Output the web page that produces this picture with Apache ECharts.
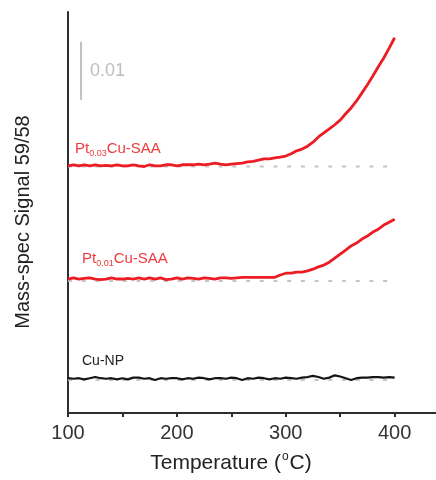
<!DOCTYPE html>
<html>
<head>
<meta charset="utf-8">
<script src="https://cdn.jsdelivr.net/npm/echarts@6/dist/echarts.min.js"></script>
<style>
html,body{margin:0;padding:0;background:#fff;}
#chart{width:436px;height:480px;}
</style>
</head>
<body>
<div id="chart"></div>
<script>
// Temperature grid (°C), 5 °C steps
var temperatures = [100,105,110,115,120,125,130,135,140,145,150,155,160,165,170,175,180,185,190,195,200,205,210,215,220,225,230,235,240,245,250,255,260,265,270,275,280,285,290,295,300,305,310,315,320,325,330,335,340,345,350,355,360,365,370,375,380,385,390,395,400];

// Offset mass-spec signal 59/58 (stacked traces)
var pt003 = [0.0426,0.0428,0.0426,0.0428,0.0426,0.0428,0.0426,0.0427,0.0426,0.0428,0.0426,0.0426,0.0428,0.0426,0.0425,0.0428,0.0426,0.0426,0.0428,0.0428,0.0426,0.0428,0.0428,0.0428,0.0429,0.0428,0.0429,0.0431,0.0429,0.0428,0.0429,0.0430,0.0431,0.0433,0.0434,0.0436,0.0438,0.0438,0.0440,0.0441,0.0443,0.0447,0.0452,0.0455,0.0460,0.0467,0.0476,0.0483,0.0490,0.0497,0.0505,0.0516,0.0526,0.0538,0.0552,0.0566,0.0581,0.0597,0.0612,0.0629,0.0647];
var pt001 = [0.0231,0.0233,0.0231,0.0232,0.0233,0.0231,0.0230,0.0231,0.0233,0.0231,0.0231,0.0232,0.0231,0.0233,0.0231,0.0233,0.0231,0.0233,0.0230,0.0231,0.0233,0.0231,0.0233,0.0232,0.0231,0.0233,0.0232,0.0231,0.0233,0.0233,0.0232,0.0233,0.0234,0.0234,0.0234,0.0234,0.0234,0.0234,0.0234,0.0238,0.0241,0.0241,0.0243,0.0243,0.0245,0.0248,0.0252,0.0255,0.0260,0.0267,0.0274,0.0281,0.0288,0.0293,0.0300,0.0305,0.0312,0.0317,0.0324,0.0329,0.0334];
var cuNP = [0.0060,0.0059,0.0060,0.0058,0.0060,0.0062,0.0060,0.0059,0.0060,0.0058,0.0060,0.0058,0.0061,0.0061,0.0059,0.0060,0.0057,0.0060,0.0059,0.0060,0.0060,0.0058,0.0060,0.0059,0.0061,0.0060,0.0058,0.0060,0.0060,0.0059,0.0061,0.0060,0.0057,0.0060,0.0059,0.0061,0.0060,0.0058,0.0060,0.0059,0.0061,0.0060,0.0059,0.0061,0.0062,0.0064,0.0062,0.0059,0.0061,0.0065,0.0063,0.0060,0.0057,0.0060,0.0061,0.0061,0.0062,0.0062,0.0061,0.0062,0.0061];

// Baselines of each trace (dotted guides)
var baselineNames = ['Pt0.03', 'Pt0.01', 'Cu-NP'];
var baselineValues = [0.0425, 0.02276, 0.0057];
var baselineRange = [100, 400];

// Scale bar: 0.01 signal units
var scaleBarT = 112;
var scaleBarBottom = 0.054;
var scaleBarSize = 0.01;
var scaleBarLabel = '0.01';

// Axis
var xMin = 100, xMax = 438, xInterval = 50;
var xTicks = [100, 150, 200, 250, 300, 350, 400];
var xTickLabels = [100, 200, 300, 400];
var yMin = 0, yMax = 0.06914;

function zip(xs, ys) { return xs.map(function (x, i) { return [x, ys[i]]; }); }

var FONT = '"Liberation Sans", Arial, sans-serif';
var RED = '#ec1c24';

var series = [];
baselineValues.forEach(function (b, i) {
  series.push({
    name: baselineNames[i] + ' baseline',
    type: 'line',
    data: [[baselineRange[0], b], [baselineRange[1], b]],
    symbol: 'none',
    silent: true,
    z: 1,
    lineStyle: { color: '#c4c4c4', width: 2, type: [4, 9.7] }
  });
});
series.push({
  name: 'Pt0.03Cu-SAA', type: 'line', data: zip(temperatures, pt003), symbol: 'none', z: 3,
  lineStyle: { color: RED, width: 2.8 }
});
series.push({
  name: 'Pt0.01Cu-SAA', type: 'line', data: zip(temperatures, pt001), symbol: 'none', z: 3,
  lineStyle: { color: RED, width: 2.8 }
});
series.push({
  name: 'Cu-NP', type: 'line', data: zip(temperatures, cuNP), symbol: 'none', z: 3,
  lineStyle: { color: '#151515', width: 2.2 }
});
series.push({
  name: 'scale bar', type: 'line',
  data: [[scaleBarT, scaleBarBottom], [scaleBarT, scaleBarBottom + scaleBarSize]],
  symbol: 'none', silent: true, z: 2,
  lineStyle: { color: '#c0c0c0', width: 2 }
});

var chart = echarts.init(document.getElementById('chart'), null, { renderer: 'canvas' });
chart.setOption({
  animation: false,
  backgroundColor: '#fff',
  grid: { left: 68, right: 0, top: 12, bottom: 67, containLabel: false },
  xAxis: {
    type: 'value', min: xMin, max: xMax, interval: xInterval,
    axisLine: { show: true, onZero: false, lineStyle: { color: '#2e2e2e', width: 2 } },
    axisTick: { show: true, length: 4, customValues: xTicks, lineStyle: { color: '#2e2e2e', width: 2 } },
    axisLabel: {
      color: '#333', fontSize: 20, fontFamily: FONT, margin: 10,
      customValues: xTickLabels,
      formatter: function (v) { return String(v); }
    },
    splitLine: { show: false }
  },
  yAxis: {
    type: 'value', min: yMin, max: yMax,
    axisLine: { show: true, lineStyle: { color: '#2e2e2e', width: 2 } },
    axisTick: { show: false },
    axisLabel: { show: false },
    splitLine: { show: false }
  },
  series: series,
  graphic: [
    {
      type: 'text', left: 90, top: 62,
      style: { text: scaleBarLabel, fill: '#bdbdbd', font: '18px ' + FONT }
    },
    {
      type: 'text', left: 75, top: 141,
      style: {
        text: 'Pt{s|0.03}Cu-SAA', fill: '#ee3a3e', font: '15px ' + FONT,
        rich: { s: { fontSize: 9, fill: '#ee3a3e', fontFamily: FONT, padding: [10, 0, 0, 0] } }
      }
    },
    {
      type: 'text', left: 82, top: 251,
      style: {
        text: 'Pt{s|0.01}Cu-SAA', fill: '#ee3a3e', font: '15px ' + FONT,
        rich: { s: { fontSize: 9, fill: '#ee3a3e', fontFamily: FONT, padding: [10, 0, 0, 0] } }
      }
    },
    {
      type: 'text', left: 82, top: 354,
      style: { text: 'Cu-NP', fill: '#222', font: '14px ' + FONT }
    },
    {
      type: 'text', x: 231, y: 463,
      style: {
        text: 'Temperature ({o|o}C)', fill: '#222', font: '21px ' + FONT,
        align: 'center', verticalAlign: 'middle',
        rich: { o: { fontSize: 12, fill: '#222', fontFamily: FONT, padding: [0, 1, 12, 1] } }
      }
    },
    {
      type: 'text', x: 23, y: 222, rotation: Math.PI / 2,
      style: {
        text: 'Mass-spec Signal 59/58', fill: '#222', font: '20px ' + FONT,
        align: 'center', verticalAlign: 'middle'
      }
    }
  ]
});
</script>
</body>
</html>
